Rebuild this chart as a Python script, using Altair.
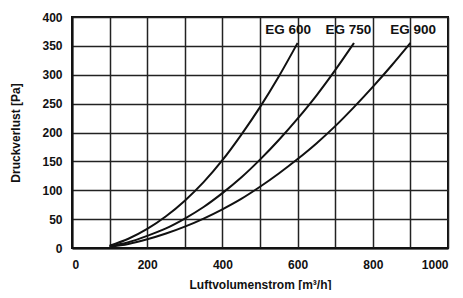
import altair as alt
import pandas as pd

# data
q600 = [100, 150, 200, 250, 300, 350, 400, 450, 500, 550, 600]
p600 = [4, 16, 33, 55, 82, 114, 152, 196, 244, 297, 355]
q750 = [100, 150, 200, 250, 300, 350, 400, 450, 500, 550, 600, 650, 700, 750]
p750 = [3, 10, 21, 34, 51, 71, 95, 122, 153, 187, 224, 264, 308, 355]
q900 = [100, 150, 200, 250, 300, 350, 400, 450, 500, 550, 600, 650, 700, 750, 800, 850, 900]
p900 = [2, 7, 15, 25, 37, 51, 67, 85, 106, 129, 154, 181, 211, 244, 279, 316, 355]

label_text = ["EG 600", "EG 750", "EG 900"]
label_x = [575, 735, 907]
label_y = [377, 377, 377]

x_ticks = [0, 100, 200, 300, 400, 500, 600, 700, 800, 900, 1000]
y_ticks = [0, 50, 100, 150, 200, 250, 300, 350, 400]

rows = []
for name, qs, ps in [("EG 600", q600, p600), ("EG 750", q750, p750), ("EG 900", q900, p900)]:
    for q, p in zip(qs, ps):
        rows.append({"series": name, "q": q, "p": p})
df = pd.DataFrame(rows)
lab = pd.DataFrame({"t": label_text, "x": label_x, "y": label_y})

FONT = "Liberation Sans"

xscale = alt.Scale(domain=[0, 1000], nice=False)
yscale = alt.Scale(domain=[0, 400], nice=False)
xaxis = alt.Axis(values=x_ticks, format="d",
                 labelExpr="datum.value % 200 == 0 ? datum.label : ''",
                 labelPadding=11, titlePadding=9)
yaxis = alt.Axis(values=y_ticks, format="d", labelPadding=10, titlePadding=19)

lines = alt.Chart(df).mark_line(color="#111111", strokeWidth=2, interpolate="monotone").encode(
    x=alt.X("q:Q", scale=xscale, title="Luftvolumenstrom [m³/h]", axis=xaxis),
    y=alt.Y("p:Q", scale=yscale, title="Druckverlust [Pa]", axis=yaxis),
    detail="series:N",
)

labels = alt.Chart(lab).mark_text(font=FONT, fontWeight="bold", fontSize=13.5, color="#111111").encode(
    x=alt.X("x:Q", scale=xscale, title="Luftvolumenstrom [m³/h]", axis=xaxis),
    y=alt.Y("y:Q", scale=yscale, title="Druckverlust [Pa]", axis=yaxis),
    text="t:N",
)

chart = (lines + labels).properties(
    width=376, height=231,
    autosize=alt.AutoSizeParams(type="none"),
    padding={"left": 64, "top": 9, "right": 5, "bottom": 42},
    background="white",
).configure_view(
    stroke="#111111", strokeWidth=2
).configure_axis(
    domainColor="#111111", domainWidth=2,
    gridColor="#222222", gridWidth=1.5, gridOpacity=1,
    ticks=False,
    labelFont=FONT, labelFontWeight="bold", labelFontSize=12, labelColor="#111111",
    titleFont=FONT, titleFontWeight="bold", titleFontSize=12, titleColor="#111111",
)

chart.save("out.html", embed_options={"renderer": "svg", "actions": False})
